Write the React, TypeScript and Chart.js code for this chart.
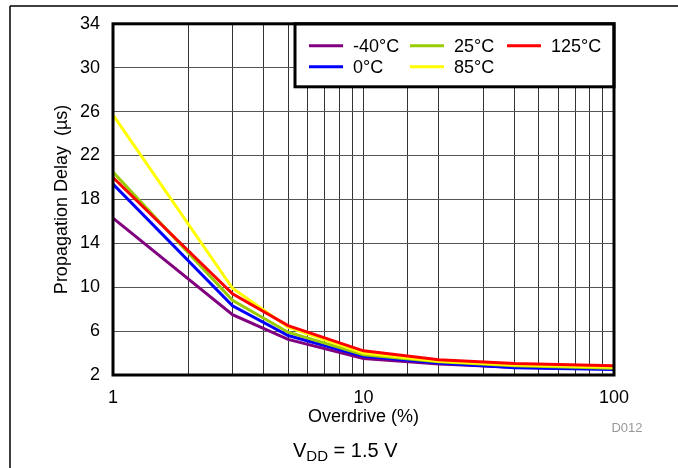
import React, { useEffect, useRef } from "react";
import { Chart, registerables } from "chart.js";

Chart.register(...registerables);

const overdrive = [1, 3, 5, 10, 20, 40, 100];
const seriesNames = ["125°C", "85°C", "25°C", "0°C", "-40°C"];
const seriesColors = ["#FF0000", "#FFFF00", "#99CC00", "#0000FF", "#800080"];
const delay125 = [20.0, 9.4, 6.5, 4.2, 3.4, 3.05, 2.85];
const delay85 = [25.7, 9.9, 6.35, 4.0, 3.25, 2.9, 2.7];
const delay25 = [20.5, 8.8, 5.9, 3.85, 3.2, 2.85, 2.62];
const delay0 = [19.4, 8.3, 5.6, 3.7, 3.1, 2.65, 2.5];
const delayM40 = [16.3, 7.5, 5.25, 3.5, 3.0, 2.7, 2.55];
const seriesValues = [delay125, delay85, delay25, delay0, delayM40];
// legend order (column-major in the picture)
const legendOrder = ["-40°C", "0°C", "25°C", "85°C", "125°C"];
const xTickLabels = [1, 10, 100];
const yMin = 2;
const yMax = 34;
const yStep = 4;

const FONT = "'Liberation Sans', Arial, sans-serif";

const decorPlugin = {
  id: "decor",
  afterDatasetsDraw(chart: any) {
    const ctx = chart.ctx;
    const a = chart.chartArea;
    // legend box
    const lx = 295, ly = a.top, lw = a.right - 295, lh = 63;
    ctx.save();
    ctx.fillStyle = "#fff";
    ctx.fillRect(lx, ly, lw, lh);
    ctx.lineWidth = 3;
    ctx.strokeStyle = "#000";
    ctx.strokeRect(lx, ly, lw, lh);
    ctx.font = `18px ${FONT}`;
    ctx.textBaseline = "middle";
    ctx.textAlign = "left";
    const colX = [309, 410, 507];
    const rowY = [ly + 22, ly + 43];
    legendOrder.forEach((name, i) => {
      const col = Math.floor(i / 2);
      const row = i % 2;
      const idx = seriesNames.indexOf(name);
      const x = colX[col];
      const y = rowY[row];
      ctx.strokeStyle = seriesColors[idx];
      ctx.lineWidth = 3;
      ctx.beginPath();
      ctx.moveTo(x, y);
      ctx.lineTo(x + 34, y);
      ctx.stroke();
      ctx.fillStyle = "#000";
      ctx.fillText(name, x + 44, y + 1);
    });
    ctx.restore();
  },
  afterDraw(chart: any) {
    const ctx = chart.ctx;
    const a = chart.chartArea;
    ctx.save();
    // plot frame
    ctx.lineWidth = 3;
    ctx.strokeStyle = "#000";
    ctx.strokeRect(a.left, a.top, a.right - a.left, a.bottom - a.top);
    // outer frame lines
    ctx.lineWidth = 1.5;
    ctx.beginPath();
    ctx.moveTo(10, 6);
    ctx.lineTo(678, 6);
    ctx.moveTo(10, 6);
    ctx.lineTo(10, 468);
    ctx.stroke();
    // y title
    ctx.fillStyle = "#000";
    ctx.font = `18px ${FONT}`;
    ctx.textAlign = "center";
    ctx.textBaseline = "middle";
    ctx.save();
    ctx.translate(62, (a.top + a.bottom) / 2);
    ctx.rotate(-Math.PI / 2);
    ctx.fillText("Propagation Delay  (µs)", 0, 0);
    ctx.restore();
    // x title
    ctx.fillText("Overdrive (%)", (a.left + a.right) / 2, 417);
    // D012
    ctx.fillStyle = "#999";
    ctx.font = `13px ${FONT}`;
    ctx.fillText("D012", 627, 428);
    // VDD = 1.5 V
    ctx.fillStyle = "#000";
    ctx.textAlign = "left";
    ctx.textBaseline = "alphabetic";
    ctx.font = `20px ${FONT}`;
    let x = 293;
    ctx.fillText("V", x, 457);
    x += ctx.measureText("V").width;
    ctx.font = `15px ${FONT}`;
    ctx.fillText("DD", x, 461);
    x += ctx.measureText("DD").width;
    ctx.font = `20px ${FONT}`;
    ctx.fillText(" = 1.5 V", x, 457);
    ctx.restore();
  },
};

export default function App() {
  const ref = useRef<HTMLCanvasElement>(null);
  useEffect(() => {
    if (!ref.current) return;
    const chart = new Chart(ref.current, {
      type: "line",
      data: {
        datasets: seriesNames.map((name, i) => ({
          label: name,
          data: overdrive.map((x, j) => ({ x, y: seriesValues[i][j] })),
          borderColor: seriesColors[i],
          backgroundColor: seriesColors[i],
          borderWidth: 3,
          pointRadius: 0,
          tension: 0,
          fill: false,
        })),
      },
      options: {
        responsive: false,
        animation: false,
        devicePixelRatio: 1,
        layout: { padding: { left: 0, top: 20, right: 64, bottom: 0 } },
        plugins: {
          legend: { display: false },
          tooltip: { enabled: false },
        },
        scales: {
          x: {
            type: "logarithmic",
            min: 1,
            max: 100,
            afterFit: (s: any) => {
              s.height = 93;
            },
            ticks: {
              autoSkip: false,
              maxRotation: 0,
              minRotation: 0,
              padding: 12,
              color: "#000",
              font: { family: FONT, size: 18 },
              callback: (v: any) => {
                const n = Number(v);
                return xTickLabels.some((t) => Math.abs(t - n) < 1e-9) ? String(n) : "";
              },
            },
            grid: { color: "#333", lineWidth: 1, drawTicks: false },
            border: { display: false },
          },
          y: {
            type: "linear",
            min: yMin,
            max: yMax,
            afterFit: (s: any) => {
              s.width = 113;
            },
            ticks: {
              stepSize: yStep,
              padding: 13,
              color: "#000",
              font: { family: FONT, size: 18 },
            },
            grid: { color: "#555", lineWidth: 1, drawTicks: false },
            border: { display: false },
          },
        },
      },
      plugins: [decorPlugin],
    });
    return () => chart.destroy();
  }, []);
  return (
    <div style={{ position: "fixed", left: 0, top: 0, width: 678, height: 468, background: "#fff" }}>
      <canvas ref={ref} width={678} height={468} style={{ width: 678, height: 468, display: "block" }} />
    </div>
  );
}
